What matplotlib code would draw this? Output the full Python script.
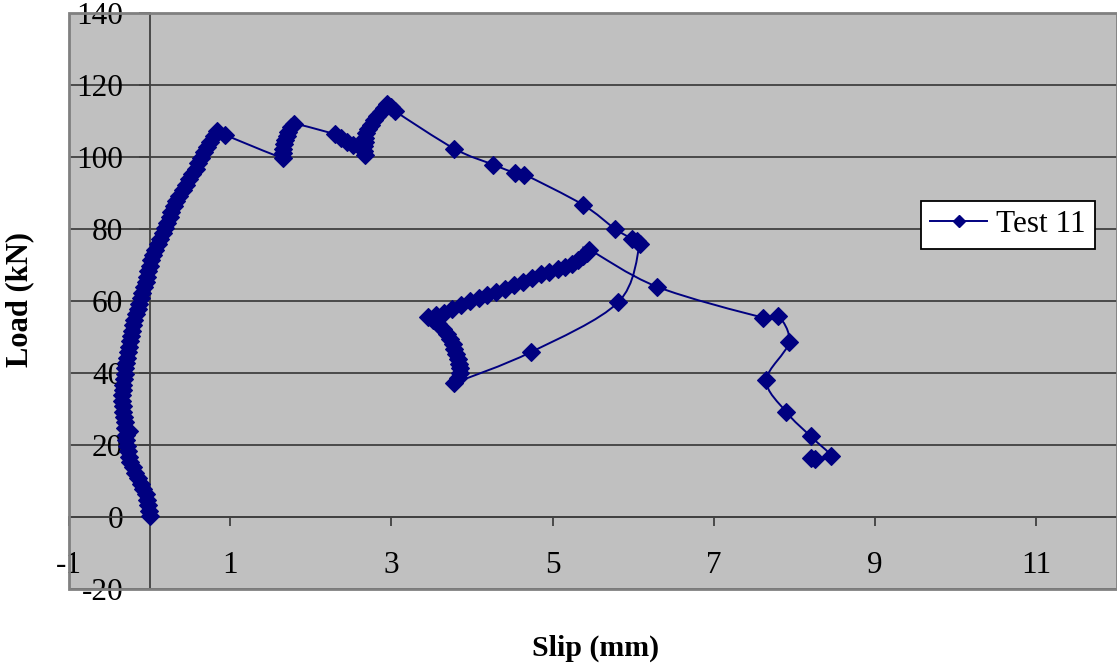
import numpy as np
import matplotlib
matplotlib.use('Agg')
import matplotlib.pyplot as plt
from matplotlib.path import Path
from matplotlib.patches import PathPatch, Rectangle
from matplotlib.lines import Line2D

plt.rcParams['font.family'] = ['Liberation Serif', 'DejaVu Serif']
plt.rcParams['axes.unicode_minus'] = False

# Test 11 load-slip readings, in test order
slip_mm = [
    # loading branch up to first peak
    0.00, -0.01, -0.02, -0.03, -0.05, -0.08, -0.11, -0.15, -0.18, -0.21,
    -0.24, -0.26, -0.27, -0.28, -0.29, -0.29, -0.26, -0.30, -0.31, -0.32,
    -0.33, -0.33, -0.34, -0.34, -0.33, -0.33, -0.32, -0.31, -0.30, -0.29,
    -0.28, -0.27, -0.26, -0.24, -0.23, -0.22, -0.21, -0.19, -0.17, -0.15,
    -0.13, -0.11, -0.09, -0.07, -0.05, -0.03, -0.02, 0.00, 0.02, 0.04,
    0.07, 0.10, 0.13, 0.16, 0.19, 0.22, 0.25, 0.27, 0.30, 0.33,
    0.37, 0.41, 0.45, 0.49, 0.53, 0.57, 0.60, 0.64, 0.67, 0.71,
    0.75, 0.80, 0.84, 0.93,
    # second rise near 1.7 mm
    1.65, 1.65, 1.66, 1.67, 1.68, 1.70, 1.72, 1.75, 1.79,
    2.30, 2.38, 2.45, 2.52,
    # rise to max load near 3 mm
    2.67, 2.66, 2.66, 2.67, 2.67, 2.69, 2.71, 2.74, 2.78, 2.82,
    2.87, 2.91, 2.95, 3.00, 3.04,
    # softening
    3.78, 4.26, 4.53, 4.65, 5.37, 5.77, 5.98, 6.04, 6.08,
    5.81, 4.73, 3.78,
    # reloading loop
    3.82, 3.85, 3.85, 3.84, 3.82, 3.80, 3.78, 3.76, 3.73, 3.69,
    3.64, 3.58, 3.51, 3.45,
    3.55, 3.65, 3.75, 3.86, 3.97, 4.08, 4.19, 4.30, 4.41, 4.52,
    4.63, 4.74, 4.85, 4.96, 5.06, 5.15, 5.24, 5.31, 5.37, 5.42,
    5.45,
    # final descent
    6.29, 7.61, 7.80, 7.93, 7.65, 7.90, 8.20, 8.45, 8.25, 8.20,
]
load_kn = [
    0.3, 1.8, 3.3, 4.8, 6.3, 7.8, 9.3, 10.8, 12.3, 13.8,
    15.3, 16.8, 18.3, 19.8, 21.3, 22.8, 23.8, 24.8, 26.3, 27.8,
    29.3, 30.8, 32.3, 33.8, 35.3, 36.8, 38.3, 39.8, 41.3, 42.8,
    44.3, 45.8, 47.3, 48.8, 50.3, 51.8, 53.3, 54.8, 56.3, 57.8,
    59.3, 60.8, 62.3, 63.8, 65.3, 66.8, 68.3, 69.8, 71.3, 72.8,
    74.3, 75.8, 77.3, 78.8, 80.3, 81.8, 83.3, 84.8, 86.3, 87.8,
    89.3, 90.8, 92.3, 93.8, 95.3, 96.8, 98.3, 99.8, 101.3, 102.8,
    104.3, 105.8, 107.3, 106.2,
    99.7, 101.0, 102.3, 103.5, 104.7, 105.9, 107.0, 108.2, 109.3,
    106.3, 105.2, 104.2, 103.2,
    100.6, 101.8, 103.0, 104.2, 105.4, 106.6, 107.8, 109.0, 110.2, 111.4,
    112.6, 113.7, 114.6, 114.0, 112.8,
    102.3, 97.9, 95.6, 95.1, 86.8, 80.1, 77.3, 76.6, 75.8,
    59.6, 45.8, 37.3,
    38.5, 40.0, 41.3, 42.6, 44.0, 45.3, 46.6, 48.0, 49.4, 50.8,
    52.2, 53.5, 54.6, 55.5,
    56.0, 56.8, 57.8, 58.9, 60.0, 60.9, 61.7, 62.6, 63.4, 64.4,
    65.4, 66.4, 67.4, 68.1, 68.8, 69.5, 70.3, 71.3, 72.4, 73.4,
    74.3,
    64.0, 55.4, 55.8, 48.5, 38.0, 29.1, 22.4, 16.9, 16.0, 16.3,
]

x_ticks = [-1, 1, 3, 5, 7, 9, 11]
y_ticks = list(range(-20, 141, 20))

navy = '#000080'
grid_col = '#404040'


def smooth_path(xs, ys):
    # Excel-style smoothed line: cubic Bezier through the points
    pts = np.column_stack([xs, ys])
    n = len(pts)
    verts = [pts[0]]
    codes = [Path.MOVETO]
    for i in range(n - 1):
        p0 = pts[i - 1] if i > 0 else pts[i]
        p1 = pts[i]
        p2 = pts[i + 1]
        p3 = pts[i + 2] if i + 2 < n else pts[i + 1]
        verts += [p1 + (p2 - p0) / 6, p2 - (p3 - p1) / 6, p2]
        codes += [Path.CURVE4] * 3
    return Path(verts, codes)


fig = plt.figure(figsize=(11.17, 6.63), dpi=100)
ax = fig.add_axes([69 / 1117, 74 / 663, 1048 / 1117, 576 / 663])
ax.set_facecolor('#c0c0c0')

ax.add_patch(PathPatch(smooth_path(slip_mm, load_kn), fill=False,
                       edgecolor=navy, lw=1.4, zorder=3))
ax.plot(slip_mm, load_kn, ls='none', marker='D', ms=9, color=navy,
        mec=navy, mew=0.8, zorder=4)

ax.set_xlim(-1, 12)
ax.set_ylim(-20, 140)
ax.set_xticks(x_ticks)
ax.set_yticks(y_ticks)

for y in y_ticks:
    ax.axhline(y, color=grid_col, lw=1.3, zorder=1)

ax.spines['left'].set_position(('data', 0))
ax.spines['bottom'].set_position(('data', 0))
ax.spines['left'].set_color(grid_col)
ax.spines['bottom'].set_color(grid_col)
ax.spines['left'].set_linewidth(1.3)
ax.spines['bottom'].set_linewidth(1.3)
ax.spines['top'].set_visible(False)
ax.spines['right'].set_visible(False)
ax.spines['left'].set_zorder(2)
ax.spines['bottom'].set_zorder(2)

ax.tick_params(axis='y', direction='out', length=8, width=1.3,
               color=grid_col, labelsize=22.5, pad=11)
ax.tick_params(axis='x', direction='out', length=6.5, width=1.3,
               color=grid_col, labelsize=22.5, pad=18)

# plot-area border
ax.add_patch(Rectangle((0, 0), 1, 1, transform=ax.transAxes, fill=False,
                       edgecolor='#808080', lw=2, clip_on=False, zorder=5))

handle = Line2D([], [], color=navy, lw=1.4, marker='D', ms=6.5)
leg = ax.legend([handle], ['Test 11'], loc='upper left',
                bbox_to_anchor=(0.813, 0.674), borderaxespad=0,
                fontsize=22.5, frameon=True, fancybox=False,
                handlelength=1.8, handletextpad=0.3, borderpad=0.3)
leg.get_frame().set_edgecolor('black')
leg.get_frame().set_linewidth(1.3)
leg.get_frame().set_facecolor('white')
leg.get_frame().set_alpha(1)

fig.text(20 / 1117, 1 - 300 / 663, 'Load (kN)', rotation=90, ha='center',
         va='center', fontsize=22, fontweight='bold')
fig.text(596 / 1117, 1 - 648 / 663, 'Slip (mm)', ha='center', va='center',
         fontsize=21.5, fontweight='bold')

fig.savefig('out.png', dpi=100)
